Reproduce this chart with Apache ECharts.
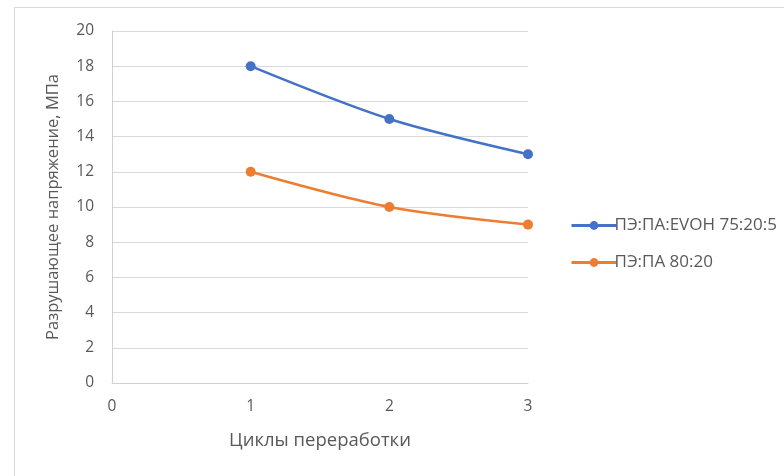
<!DOCTYPE html>
<html>
<head>
<meta charset="utf-8">
<script src="https://cdn.jsdelivr.net/npm/echarts@6/dist/echarts.min.js"></script>
<style>
  html, body { margin: 0; padding: 0; background: #fff; }
  #chart { width: 784px; height: 476px; }
</style>
</head>
<body>
<div id="chart"></div>
<script>
// Processing cycles and breaking stress (MPa) for the two blends
const cycles = [1, 2, 3];
const blendEvoh = [18, 15, 13];
const blendPa = [12, 10, 9];
const seriesNames = ['ПЭ:ПА:EVOH 75:20:5', 'ПЭ:ПА 80:20'];
const xTitle = 'Циклы переработки';
const yTitle = 'Разрушающее напряжение, МПа';

const font = '"Open Sans", "Noto Sans", sans-serif';
const textColor = '#595959';

const chart = echarts.init(document.getElementById('chart'));
chart.setOption({
  animation: false,
  backgroundColor: '#fff',
  graphic: [{
    type: 'rect',
    shape: { x: 14.5, y: 7.5, width: 800, height: 500 },
    style: { fill: 'none', stroke: '#d9d9d9', lineWidth: 1 },
    silent: true
  }],
  grid: { left: 112, right: 256, top: 31, bottom: 93 },
  xAxis: {
    type: 'value',
    min: 0, max: 3, interval: 1,
    name: xTitle,
    nameLocation: 'middle',
    nameGap: 48,
    nameTextStyle: { color: textColor, fontSize: 18.5, fontFamily: font },
    axisLine: { show: true, lineStyle: { color: '#d0d0d0', width: 1 } },
    axisTick: { show: false },
    splitLine: { show: false },
    axisLabel: { color: textColor, fontSize: 15.5, fontFamily: font, margin: 16 }
  },
  yAxis: {
    type: 'value',
    min: 0, max: 20, interval: 2,
    name: yTitle,
    nameLocation: 'middle',
    nameGap: 50,
    nameTextStyle: { color: textColor, fontSize: 16.5, fontFamily: font },
    axisLine: { show: true, lineStyle: { color: '#d0d0d0', width: 1 } },
    axisTick: { show: false },
    splitLine: { show: true, lineStyle: { color: '#d9d9d9', width: 1 } },
    axisLabel: { color: textColor, fontSize: 15.5, fontFamily: font, margin: 18 }
  },
  legend: {
    orient: 'vertical',
    left: 565,
    top: 209,
    itemGap: 14,
    itemWidth: 45,
    itemHeight: 11,
    lineStyle: { width: 3 },
    textStyle: { color: textColor, fontSize: 17, fontFamily: font, padding: [0, 0, 0, -7], lineHeight: 23 },
    data: seriesNames
  },
  series: [
    {
      name: seriesNames[0],
      type: 'line',
      smooth: 0.3,
      data: cycles.map((c, i) => [c, blendEvoh[i]]),
      symbol: 'circle',
      symbolSize: 10,
      lineStyle: { color: '#4472C4', width: 2.5 },
      itemStyle: { color: '#4472C4' }
    },
    {
      name: seriesNames[1],
      type: 'line',
      smooth: 0.3,
      data: cycles.map((c, i) => [c, blendPa[i]]),
      symbol: 'circle',
      symbolSize: 10,
      lineStyle: { color: '#ED7D31', width: 2.5 },
      itemStyle: { color: '#ED7D31' }
    }
  ]
});
</script>
</body>
</html>
